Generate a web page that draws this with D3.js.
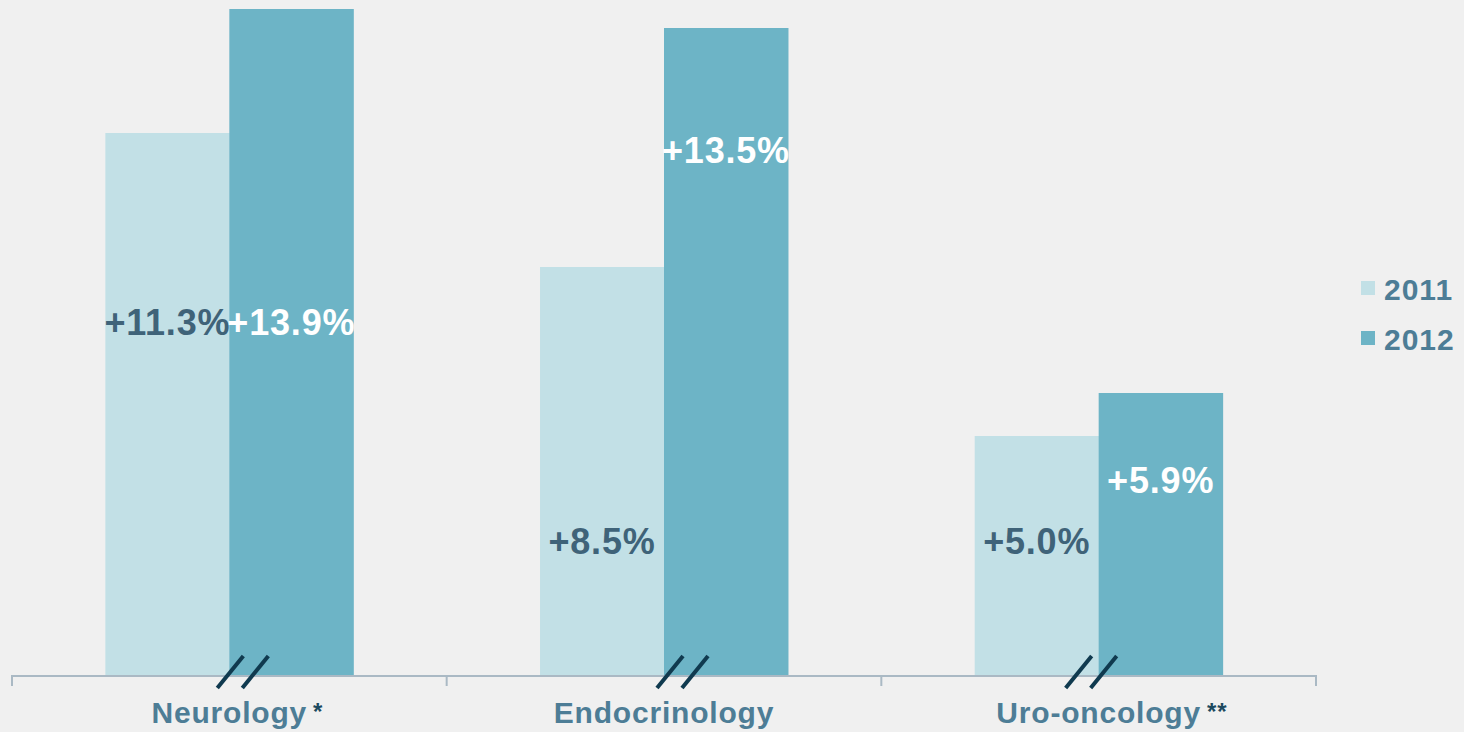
<!DOCTYPE html>
<html>
<head>
<meta charset="utf-8">
<script src="https://cdn.jsdelivr.net/npm/d3@7"></script>
<style>
  html, body { margin: 0; padding: 0; background: #f0f0f0; }
  svg { display: block; }
  text { font-family: "Liberation Sans", Arial, sans-serif; font-weight: bold; }
</style>
</head>
<body>
<svg id="chart" width="1464" height="732"></svg>
<script>
// ---- data ----
const categories = ["Neurology", "Endocrinology", "Uro-oncology"];
const footnotes = ["*", "", "**"];
const seriesNames = ["2011", "2012"];
// relative bar heights (broken axis, no numeric scale shown)
const values2011 = [543, 409, 240];
const values2012 = [667, 648, 283];
const labels2011 = ["+11.3%", "+8.5%", "+5.0%"];
const labels2012 = ["+13.9%", "+13.5%", "+5.9%"];
// label vertical position in value units (where the label's centre sits)
const labelPos2011 = [354, 135, 135];
const labelPos2012 = [354, 526, 196];
const breakOffsets = [1, 6, -20];

// ---- layout ----
const svg = d3.select("#chart");
const margin = { left: 12, right: 148, top: 9, bottom: 56 };
const W = 1464, H = 732;
const x0 = d3.scaleBand().domain(categories).range([margin.left, W - margin.right]).paddingInner(0).paddingOuter(0);
const x1 = d3.scaleBand().domain(seriesNames).range([0, x0.bandwidth()]).paddingOuter(0.753).paddingInner(0);
const y = d3.scaleLinear().domain([0, 667]).range([H - margin.bottom, margin.top]);
const colors = { "2011": "#c2e0e6", "2012": "#6db4c6" };
const labelColors = { "2011": "#3f6379", "2012": "#ffffff" };

const rows = categories.map((c, i) => ({
  cat: c, i,
  bars: [
    { s: "2011", v: values2011[i], label: labels2011[i], lp: labelPos2011[i] },
    { s: "2012", v: values2012[i], label: labels2012[i], lp: labelPos2012[i] }
  ]
}));

const g = svg.append("g");
const groups = g.selectAll(".grp").data(rows).join("g")
  .attr("transform", d => `translate(${x0(d.cat)},0)`);

groups.selectAll("rect").data(d => d.bars).join("rect")
  .attr("x", d => x1(d.s))
  .attr("width", x1.bandwidth() + 0.5)
  .attr("y", d => y(d.v))
  .attr("height", d => y(0) - y(d.v))
  .attr("fill", d => colors[d.s]);

groups.selectAll("text.val").data(d => d.bars).join("text")
  .attr("class", "val")
  .attr("x", d => x1(d.s) + x1.bandwidth() / 2)
  .attr("y", d => y(d.lp))
  .attr("dy", "0.35em")
  .attr("text-anchor", "middle")
  .attr("font-size", 36)
  .attr("letter-spacing", 0.8)
  .attr("fill", d => labelColors[d.s])
  .text(d => d.label);

// x axis
const axis = d3.axisBottom(x0).tickSize(10).tickSizeOuter(10).tickFormat("");
const axG = svg.append("g").attr("transform", `translate(0,${y(0)})`).call(axis);
axG.select(".domain").attr("stroke", "#aab9c4").attr("stroke-width", 2)
  .attr("d", `M${margin.left},10V0H${W - margin.right}V10`);
axG.selectAll(".tick").remove();
// category boundary ticks
const bounds = categories.map(c => x0(c)).concat([x0.range()[1]]);
axG.selectAll("line.bt").data(bounds).join("line")
  .attr("x1", d => d).attr("x2", d => d).attr("y1", 0).attr("y2", 10)
  .attr("stroke", "#aab9c4").attr("stroke-width", 2);

// category labels
const cl = svg.selectAll("text.cat").data(categories).join("text")
  .attr("class", "cat")
  .attr("x", d => x0(d) + x0.bandwidth() / 2)
  .attr("y", 723)
  .attr("text-anchor", "middle")
  .attr("font-size", 30)
  .attr("letter-spacing", 0.8)
  .attr("fill", "#4d7d96")
  .text(d => d);
categories.forEach((c, i) => {
  if (!footnotes[i]) return;
  const node = cl.filter(d => d === c).node();
  const bb = node.getBBox();
  svg.append("text")
    .attr("x", bb.x + bb.width + 6)
    .attr("y", 720)
    .attr("font-size", 24)
    .attr("letter-spacing", 1)
    .attr("fill", "#1d4a60")
    .text(footnotes[i]);
});

// axis break marks
categories.forEach((c, i) => {
  const cx = x0(c) + x0.bandwidth() / 2 + breakOffsets[i];
  [0, 25].forEach(dx => {
    svg.append("line")
      .attr("x1", cx + dx - 13).attr("y1", y(0) + 12)
      .attr("x2", cx + dx + 13).attr("y2", y(0) - 20)
      .attr("stroke", "#103a4f").attr("stroke-width", 4);
  });
});

// legend
const leg = svg.append("g").attr("transform", "translate(1361,281)");
const li = leg.selectAll("g").data(seriesNames).join("g")
  .attr("transform", (d, i) => `translate(0,${i * 50})`);
li.append("rect").attr("width", 14).attr("height", 14).attr("fill", d => colors[d]);
li.append("text").attr("x", 23).attr("y", 19).attr("font-size", 30)
  .attr("letter-spacing", 1)
  .attr("fill", "#4d7d96").text(d => d);
</script>
</body>
</html>
